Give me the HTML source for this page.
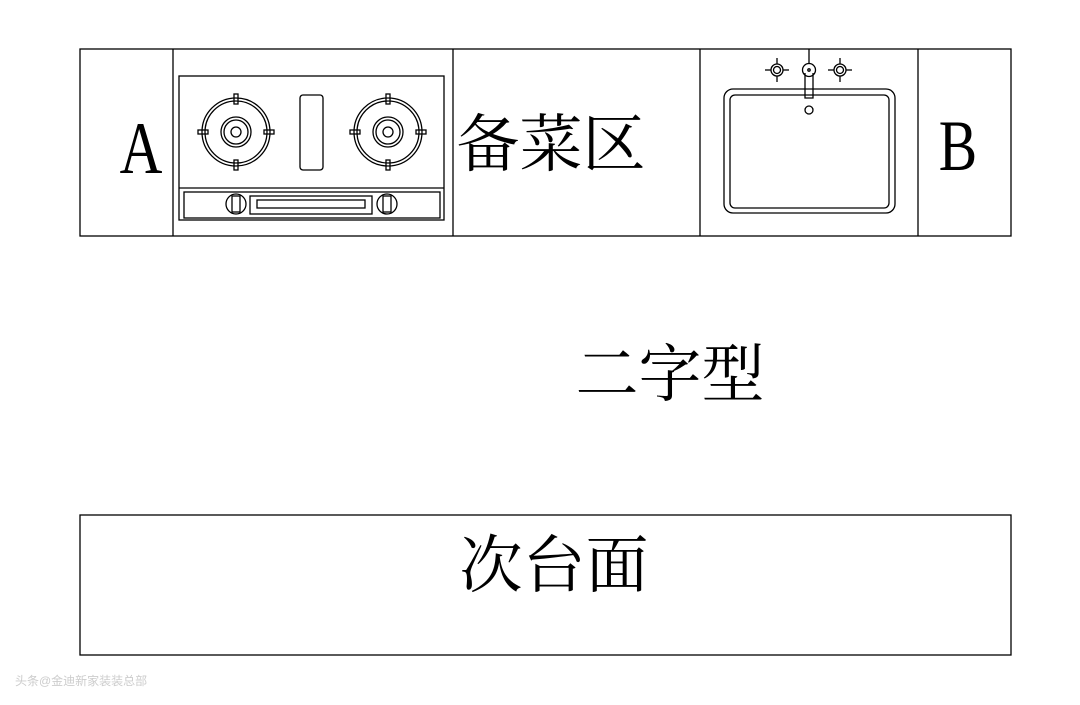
<!DOCTYPE html>
<html><head><meta charset="utf-8"><style>
html,body{margin:0;padding:0;background:#fff;width:1080px;height:705px;overflow:hidden}
svg{display:block}
text{font-family:"Liberation Serif","Noto Serif CJK SC",serif;fill:#000}
</style></head><body>
<svg width="1080" height="705" viewBox="0 0 1080 705" xmlns="http://www.w3.org/2000/svg">
<g fill="none" stroke="#000" stroke-width="1.3">
<rect x="80" y="49" width="931" height="187"/>
<line x1="173" y1="49" x2="173" y2="236"/>
<line x1="453" y1="49" x2="453" y2="236"/>
<line x1="700" y1="49" x2="700" y2="236"/>
<line x1="918" y1="49" x2="918" y2="236"/>
<!-- stove -->
<rect x="179" y="76" width="265" height="144"/>
<line x1="179" y1="188" x2="444" y2="188"/>
<rect x="184" y="192" width="256" height="26"/>
<g id="b1">
<circle cx="236" cy="132" r="34"/><circle cx="236" cy="132" r="31"/>
<circle cx="236" cy="132" r="15"/><circle cx="236" cy="132" r="12"/><circle cx="236" cy="132" r="5"/>
<rect x="234" y="94" width="4" height="10"/><rect x="234" y="160" width="4" height="10"/>
<rect x="198" y="130" width="10" height="4"/><rect x="264" y="130" width="10" height="4"/>
</g>
<use href="#b1" x="152"/>
<rect x="300" y="95" width="23" height="75" rx="3"/>
<circle cx="236" cy="204" r="10"/><rect x="232" y="196" width="8" height="16"/>
<circle cx="387" cy="204" r="10"/><rect x="383" y="196" width="8" height="16"/>
<rect x="250" y="196" width="122" height="18"/>
<rect x="257" y="200" width="108" height="8"/>
<!-- sink -->
<rect x="724" y="89" width="171" height="124" rx="9"/>
<rect x="730" y="95" width="159" height="113" rx="5"/>
<line x1="809" y1="49" x2="809" y2="63"/>
<circle cx="777" cy="70" r="6"/><circle cx="777" cy="70" r="3.5"/>
<line x1="765" y1="70" x2="771" y2="70"/><line x1="783" y1="70" x2="789" y2="70"/>
<line x1="777" y1="58" x2="777" y2="64"/><line x1="777" y1="76" x2="777" y2="82"/>
<circle cx="840" cy="70" r="6"/><circle cx="840" cy="70" r="3.5"/>
<line x1="828" y1="70" x2="834" y2="70"/><line x1="846" y1="70" x2="852" y2="70"/>
<line x1="840" y1="58" x2="840" y2="64"/><line x1="840" y1="76" x2="840" y2="82"/>
<path d="M805 73 V98 H813 V73"/>
<circle cx="809" cy="70" r="6.5"/><circle cx="809" cy="70" r="1.2"/>
<circle cx="809" cy="110" r="4"/>
<!-- bottom -->
<rect x="80" y="515" width="931" height="140"/>
</g>
<text x="141" y="173" font-size="74" text-anchor="middle" transform="translate(141 0) scale(0.8 1) translate(-141 0)">A</text>
<text x="958" y="170" font-size="72" text-anchor="middle" transform="translate(958 0) scale(0.8 1) translate(-958 0)">B</text>
<text x="551" y="166" font-size="63" text-anchor="middle">备菜区</text>
<text x="670" y="396" font-size="63" text-anchor="middle">二字型</text>
<text x="554" y="587" font-size="63" text-anchor="middle">次台面</text>
<text x="15" y="685" font-size="12" style="font-family:'Liberation Sans','Noto Sans CJK SC',sans-serif;fill:#ccc">头条@金迪新家装装总部</text>
</svg>
</body></html>
